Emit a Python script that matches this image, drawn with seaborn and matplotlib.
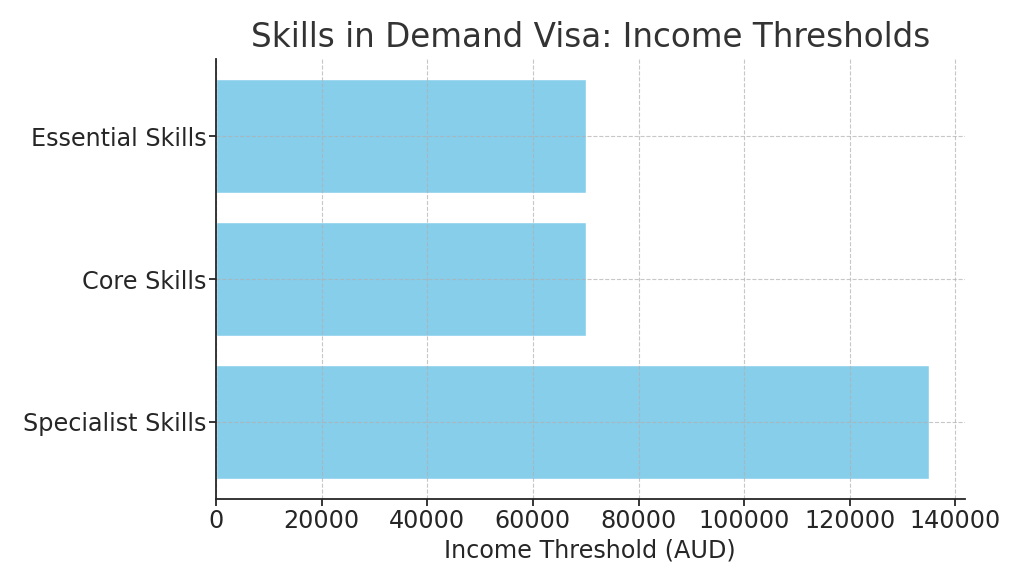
import matplotlib
matplotlib.use("Agg")
import matplotlib.pyplot as plt
import seaborn as sns
import pandas as pd

categories = ["Essential Skills", "Core Skills", "Specialist Skills"]
thresholds = [70000, 70000, 135000]

df = pd.DataFrame({"category": categories, "threshold": thresholds})

sns.set_style("ticks")
plt.rcParams['font.family'] = ['DejaVu Sans']

fig = plt.figure(figsize=(10.24, 5.85), dpi=100)
ax = fig.add_axes([0.211, 0.147, 0.731, 0.752])

sns.barplot(data=df, y="category", x="threshold", color="#87CEEB", width=0.8,
            saturation=1, ax=ax, orient="h")

n = len(categories)
pad = 0.05 * (n - 1 + 0.8)
ax.set_ylim(n - 1 + 0.4 + pad, -0.4 - pad)
ax.set_xlim(0, max(thresholds) * 1.05)

ax.grid(True, linestyle="--", color="#b0b0b0", alpha=0.7, linewidth=0.8)
ax.set_axisbelow(False)
for s in ["top", "right"]:
    ax.spines[s].set_visible(False)
for s in ["left", "bottom"]:
    ax.spines[s].set_color("#262626")
    ax.spines[s].set_linewidth(1.3)
    ax.spines[s].set_zorder(5)

ax.set_title("Skills in Demand Visa: Income Thresholds", fontsize=23.5, color="#333333", pad=9)
ax.set_xlabel("Income Threshold (AUD)", fontsize=17.2, color="#262626", labelpad=4)
ax.set_ylabel("")
ax.tick_params(axis="both", labelsize=17.2, colors="#262626", length=5, width=1.3, pad=2)

fig.savefig("out.png", dpi=100)
